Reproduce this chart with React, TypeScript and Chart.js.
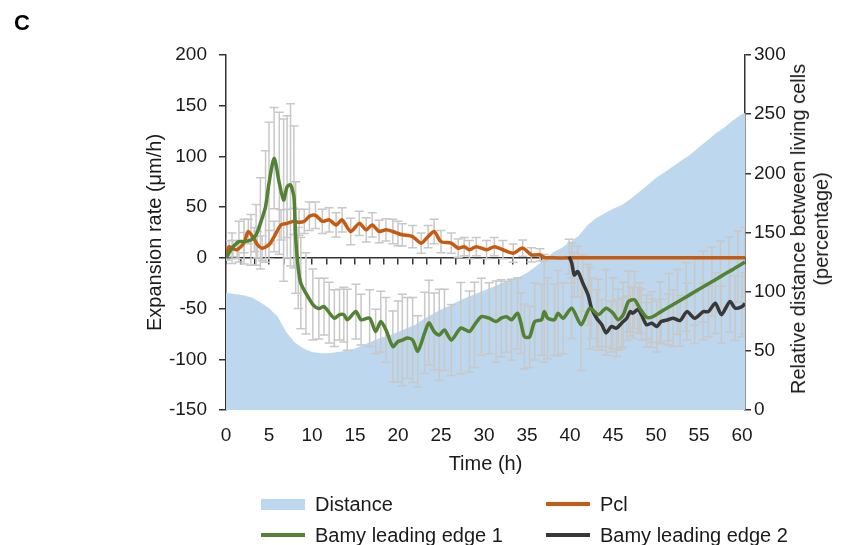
import React, { useEffect, useRef } from 'react';
import { Chart, registerables } from 'chart.js';

Chart.register(...registerables);

// ---------- data ----------
const xTickLabels = [0, 5, 10, 15, 20, 25, 30, 35, 40, 45, 50, 55, 60];
const leftTicks = [-150, -100, -50, 0, 50, 100, 150, 200];
const rightTicks = [0, 50, 100, 150, 200, 250, 300];

const distanceTime = [
  0, 1, 2, 3, 4, 5, 6, 7, 8, 9,
  10, 11, 12, 13, 14, 15, 16, 17, 18, 19,
  20, 21, 22, 23, 24, 25, 26, 27, 28, 29,
  30, 31, 32, 33, 34, 35, 36, 37, 38, 39,
  40, 41, 42, 43, 44, 45, 46, 47, 48, 49,
  50, 51, 52, 53, 54, 55, 56, 57, 58, 59,
  60, 60.35,
];
const distanceValues = [
  99, 98, 97, 95, 91, 86, 79, 66, 57, 52,
  49, 48, 48, 49, 50, 52, 55, 58, 61, 63,
  66, 69, 72, 77, 81, 85, 88, 92, 95, 98,
  101, 104, 107, 110, 112, 116, 121, 127, 133, 137,
  142, 147, 156, 162, 166, 170, 173, 178, 184, 190,
  196, 201, 206, 211, 216, 222, 228, 234, 239, 245,
  250, 251,
];

const pclTime = [
  0, 0.35, 0.8, 1.3, 2.1, 2.6, 3.3, 3.65, 4.2, 5.0,
  5.6, 6.4, 7.1, 7.9, 8.5, 9.1, 9.7, 10.4, 11.2, 12.0,
  12.8, 13.5, 14.5, 15.5, 16.3, 17.0, 17.8, 18.6, 19.4, 20.0,
  20.5, 21.7, 22.7, 23.5, 24.2, 25.0, 26.2, 27.0, 27.7, 28.3,
  29.1, 30.3, 31.2, 32.2, 33.4, 34.5, 35.5, 36.5, 37.0, 38,
  40, 45, 50, 55, 60.35,
];
const pclValues = [
  1, 11, 9, 8, 15, 26, 18, 13, 9.5, 13,
  21, 32.5, 34, 36, 35, 36, 41, 42, 36, 37.5,
  32.5, 37.5, 26, 34, 27.6, 32.5, 26, 27.6, 26, 24,
  22.7, 21, 14.5, 21, 26, 16, 14.5, 9.5, 11, 8,
  11, 8, 11, 8, 4.6, 9.6, 3, 3, 0.3, 0,
  0, 0, 0, 0, 0,
];
const pclErrors = [
  3, 6, 8, 9, 10, 12, 12, 13, 12, 14,
  15, 15, 14, 13, 13, 12, 14, 13, 12, 12,
  12, 12, 13, 12, 12, 12, 11, 11, 12, 12,
  11, 11, 10, 11, 12, 11, 10, 9, 9, 9,
  9, 9, 9, 9, 9, 8, 7, 6, 3, 0,
  0, 0, 0, 0, 0,
];

const bamy1Time = [
  0, 0.7, 1.5, 2.1, 2.9, 3.5, 4.0, 4.6, 5.0, 5.6,
  6.2, 6.7, 7.1, 7.5, 7.9, 8.1, 8.4, 8.7, 9.3, 10.1,
  10.8, 11.4, 12.0, 12.6, 13.2, 13.7, 14.1, 15.1, 15.7, 16.7,
  17.4, 18.0, 18.6, 19.4, 20.0, 20.5, 21.1, 21.7, 22.3, 23.1,
  23.6, 24.2, 24.8, 25.4, 26.2, 27.3, 28.3, 28.9, 29.7, 30.6,
  31.4, 32.0, 32.6, 33.2, 33.9, 34.3, 34.7, 35.3, 35.9, 36.7,
  37.0, 37.4, 38.2, 38.6, 39.2, 40.2, 41.3, 42.3, 43.3, 44.2,
  45.0, 45.6, 46.2, 46.8, 47.5, 48.1, 48.9, 49.5, 50.5, 51.5,
  52.5, 53.5, 54.5, 55.5, 56.5, 57.5, 58.5, 59.5, 60.35,
];
const bamy1Values = [
  0, 9.5, 16, 16, 17.7, 22.7, 34, 50.6, 73.6, 98.3,
  73.6, 57, 70, 72, 60, 20, -10, -25, -35, -46,
  -50, -48, -54, -59.5, -56, -56, -61, -53, -61, -59.5,
  -72.6, -62.8, -71, -87.4, -82.5, -81, -79, -81, -92, -74,
  -64, -72.6, -76, -71, -81, -69.3, -72.6, -66, -58, -59.5,
  -62.8, -59.5, -58, -61, -54.5, -64.4, -77.6, -78, -62.8, -61,
  -53, -59.5, -61, -54.5, -59.5, -49.6, -66, -49.6, -56, -49.6,
  -54.5, -61, -56, -43, -41.4, -49.6, -58.5, -58.5, -53.5, -48.5,
  -43.5, -38.5, -33.5, -28.5, -23.5, -18.5, -13.5, -8.5, -4,
];
const bamy1Errors = [
  2, 15, 20, 22, 25, 30, 45, 55, 60, 50,
  70, 80, 70, 80, 70, 55, 40, 45, 40, 35,
  30, 28, 30, 28, 25, 27, 30, 27, 25, 28,
  22, 30, 32, 35, 40, 45, 40, 42, 35, 40,
  42, 38, 45, 40, 35, 45, 40, 42, 38, 35,
  40, 38, 35, 40, 35, 30, 32, 30, 38, 35,
  50, 40, 35, 42, 35, 30, 45, 40, 35, 38,
  35, 30, 32, 30, 28, 25, 22, 25, 30, 33,
  32, 34, 33, 35, 34, 35, 34, 35, 34,
];

const bamy2Time = [
  39.9, 40.2, 40.5, 40.9, 41.5, 42.1, 42.5, 43.1, 43.7, 44.2,
  44.8, 45.4, 46.0, 46.6, 47.0, 47.3, 47.9, 48.3, 48.9, 49.5,
  50.1, 50.6, 51.4, 52.0, 52.8, 53.6, 54.5, 55.5, 56.1, 56.9,
  57.6, 58.6, 59.2, 60.0, 60.35,
];
const bamy2Values = [
  1.3, -5, -16.8, -13.5, -25, -36.5, -49.6, -59.5, -66, -74,
  -67.7, -69.3, -64.4, -59.5, -53, -54.5, -51, -56, -66, -64.4,
  -67.7, -62.8, -61, -59.5, -61.8, -53, -59.5, -53, -53, -44.7,
  -56, -43, -49.6, -48, -45,
];
const bamy2Errors = [
  17, 20, 22, 25, 28, 30, 30, 28, 25, 22,
  25, 28, 25, 22, 24, 25, 22, 25, 22, 24,
  25, 22, 25, 28, 25, 28, 25, 28, 25, 30,
  28, 30, 32, 30, 30,
];

// ---------- styling ----------
const FONT = "'Liberation Sans', Arial, Helvetica, sans-serif";
const TEXT = '#1a1a1a';
const AXIS = '#333333';
const BLUE = '#bdd7ee';
const ORANGE = '#c55a11';
const GREEN = '#548235';
const DARK = '#383838';
const ERR = '#c8c8c8';

const toPoints = (xs: number[], ys: number[]) => {
  const n = Math.min(xs.length, ys.length);
  const out: { x: number; y: number }[] = [];
  for (let i = 0; i < n; i++) out.push({ x: xs[i], y: ys[i] });
  return out;
};

const errorSeries = [
  { t: pclTime, v: pclValues, e: pclErrors },
  { t: bamy1Time, v: bamy1Values, e: bamy1Errors },
  { t: bamy2Time, v: bamy2Values, e: bamy2Errors },
];

const errorBarPlugin = {
  id: 'errorBars',
  afterDatasetDraw(chart: any, args: any) {
    if (args.index !== 0) return;
    const { ctx, chartArea } = chart;
    const xs = chart.scales.x;
    const ys = chart.scales.y;
    ctx.save();
    ctx.beginPath();
    ctx.rect(chartArea.left, chartArea.top, chartArea.right - chartArea.left, chartArea.bottom - chartArea.top);
    ctx.clip();
    ctx.strokeStyle = ERR;
    ctx.lineWidth = 1.5;
    const cap = 4.5;
    for (const s of errorSeries) {
      const n = Math.min(s.t.length, s.v.length, s.e.length);
      for (let i = 0; i < n; i++) {
        const e = s.e[i];
        if (!e) continue;
        const px = xs.getPixelForValue(s.t[i]);
        const top = ys.getPixelForValue(s.v[i] + e);
        const bot = ys.getPixelForValue(s.v[i] - e);
        ctx.beginPath();
        ctx.moveTo(px, top);
        ctx.lineTo(px, bot);
        ctx.moveTo(px - cap, top);
        ctx.lineTo(px + cap, top);
        ctx.moveTo(px - cap, bot);
        ctx.lineTo(px + cap, bot);
        ctx.stroke();
      }
    }
    ctx.restore();
  },
};

const X_MAX = 60.35;

export default function App() {
  const canvasRef = useRef<HTMLCanvasElement | null>(null);

  useEffect(() => {
    if (!canvasRef.current) return;
    const tickFont = { family: FONT, size: 19 };
    const titleFont = { family: FONT, size: 20 };

    const chart = new Chart(canvasRef.current, {
      type: 'line',
      data: {
        datasets: [
          {
            label: 'Distance',
            data: toPoints(distanceTime, distanceValues),
            yAxisID: 'y2',
            xAxisID: 'x',
            fill: 'start',
            backgroundColor: BLUE,
            borderWidth: 0,
            borderColor: BLUE,
            pointRadius: 0,
            tension: 0,
            order: 4,
          },
          {
            label: 'Pcl',
            data: toPoints(pclTime, pclValues),
            yAxisID: 'y',
            xAxisID: 'x',
            borderColor: ORANGE,
            borderWidth: 3.5,
            pointRadius: 0,
            tension: 0.25,
            fill: false,
            order: 3,
          },
          {
            label: 'Bamy leading edge 2',
            data: toPoints(bamy2Time, bamy2Values),
            yAxisID: 'y',
            xAxisID: 'x',
            borderColor: DARK,
            borderWidth: 3.5,
            pointRadius: 0,
            tension: 0.25,
            fill: false,
            order: 2,
          },
          {
            label: 'Bamy leading edge 1',
            data: toPoints(bamy1Time, bamy1Values),
            yAxisID: 'y',
            xAxisID: 'x',
            borderColor: GREEN,
            borderWidth: 3.5,
            pointRadius: 0,
            tension: 0.25,
            fill: false,
            order: 1,
          },
        ],
      },
      options: {
        animation: false,
        responsive: false,
        devicePixelRatio: 1,
        layout: { padding: { left: 143, right: 0, top: 55, bottom: 65 } },
        plugins: {
          legend: { display: false },
          tooltip: { enabled: false },
        },
        scales: {
          x: {
            type: 'linear',
            position: 'bottom',
            min: 0,
            max: X_MAX,
            afterBuildTicks: (s: any) => {
              s.ticks = xTickLabels.map((v) => ({ value: v }));
            },
            ticks: { font: tickFont, color: TEXT, padding: 14, maxRotation: 0, autoSkip: false },
            grid: { display: false, drawTicks: false },
            border: { display: false },
            title: {
              display: true,
              text: 'Time (h)',
              font: titleFont,
              color: TEXT,
              padding: { top: 0, bottom: 4 },
            },
            afterFit: (s: any) => {
              s.height = 70;
            },
          },
          xZero: {
            type: 'linear',
            axis: 'x',
            position: { y: 0 },
            min: 0,
            max: X_MAX,
            ticks: { display: false, stepSize: 5 / 3 },
            grid: {
              display: true,
              drawOnChartArea: false,
              drawTicks: true,
              tickLength: 6,
              color: AXIS,
              lineWidth: 1.5,
            },
            border: { display: true, color: AXIS, width: 1.5 },
          },
          y: {
            type: 'linear',
            position: 'left',
            min: -150,
            max: 200,
            afterBuildTicks: (s: any) => {
              s.ticks = leftTicks.map((v) => ({ value: v }));
            },
            ticks: { font: tickFont, color: TEXT, padding: 12 },
            grid: {
              display: true,
              drawOnChartArea: false,
              drawTicks: true,
              tickLength: 7,
              color: AXIS,
              lineWidth: 1.5,
            },
            border: { display: true, color: AXIS, width: 1.5 },
            title: {
              display: true,
              text: 'Expansion rate (μm/h)',
              font: titleFont,
              color: TEXT,
              padding: 0,
            },
            afterFit: (s: any) => {
              s.width = 83;
            },
          },
          y2: {
            type: 'linear',
            position: 'right',
            min: 0,
            max: 300,
            afterBuildTicks: (s: any) => {
              s.ticks = rightTicks.map((v) => ({ value: v }));
            },
            ticks: { font: tickFont, color: TEXT, padding: 3 },
            grid: {
              display: true,
              drawOnChartArea: false,
              drawTicks: true,
              tickLength: 6,
              color: AXIS,
              lineWidth: 1.5,
            },
            border: { display: true, color: AXIS, width: 1.5 },
            afterFit: (s: any) => {
              s.width = 110;
            },
          },
        },
      },
      plugins: [errorBarPlugin],
    } as any);

    return () => chart.destroy();
  }, []);

  const legendText: React.CSSProperties = {
    position: 'absolute',
    fontFamily: FONT,
    fontSize: 20,
    color: TEXT,
    lineHeight: '24px',
    whiteSpace: 'nowrap',
  };

  return (
    <div style={{ position: 'absolute', left: 0, top: 0, width: 855, height: 545, background: '#fff', overflow: 'hidden' }}>
      <canvas ref={canvasRef} width={855} height={545} style={{ position: 'absolute', left: 0, top: 0, width: 855, height: 545 }} />
      <div style={{ position: 'absolute', left: 14, top: 10, fontFamily: FONT, fontWeight: 'bold', fontSize: 22, color: '#000' }}>C</div>
      <div
        style={{
          position: 'absolute',
          left: 810,
          top: 229,
          transform: 'translate(-50%, -50%) rotate(-90deg)',
          fontFamily: FONT,
          fontSize: 20,
          color: TEXT,
          lineHeight: '23px',
          textAlign: 'center',
          whiteSpace: 'nowrap',
        }}
      >
        <div>Relative distance between living cells</div>
        <div>(percentage)</div>
      </div>
      {/* legend */}
      <div style={{ position: 'absolute', left: 261, top: 499, width: 44, height: 11, background: BLUE }} />
      <div style={{ ...legendText, left: 315, top: 492 }}>Distance</div>
      <div style={{ position: 'absolute', left: 546, top: 502, width: 44, height: 4, background: ORANGE }} />
      <div style={{ ...legendText, left: 600, top: 492 }}>Pcl</div>
      <div style={{ position: 'absolute', left: 261, top: 533, width: 44, height: 4, background: GREEN }} />
      <div style={{ ...legendText, left: 315, top: 523 }}>Bamy leading edge 1</div>
      <div style={{ position: 'absolute', left: 546, top: 533, width: 44, height: 4, background: DARK }} />
      <div style={{ ...legendText, left: 600, top: 523 }}>Bamy leading edge 2</div>
    </div>
  );
}
